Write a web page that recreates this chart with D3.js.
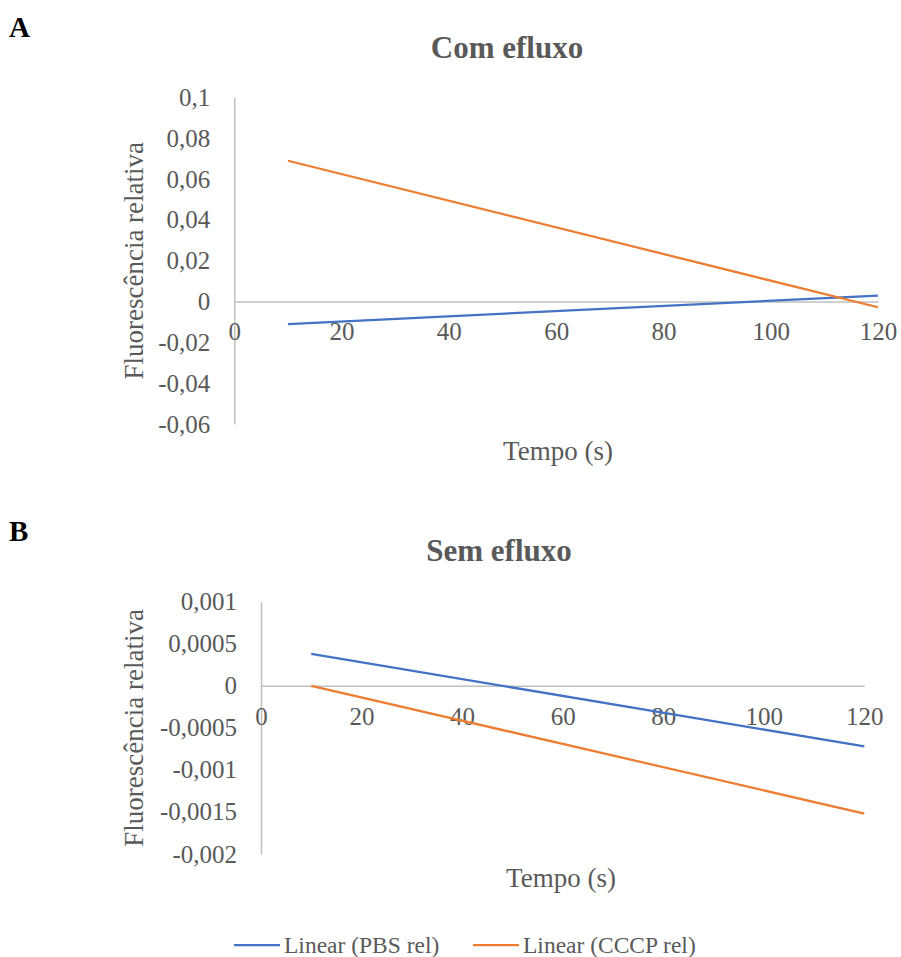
<!DOCTYPE html>
<html>
<head>
<meta charset="utf-8">
<script src="https://cdn.jsdelivr.net/npm/d3@7"></script>
<style>
  body { margin: 0; background: #fff; }
  svg { display: block; font-family: "Liberation Serif", "Times New Roman", Times, serif; }
  .axis path, .axis line { stroke: #bfbfbf; stroke-width: 1.5px; }
  .axis text { fill: #595959; font-size: 25px; font-family: "Liberation Serif", "Times New Roman", Times, serif; }
</style>
</head>
<body>
<div id="chart"></div>
<script>
// ── dados ──
const tempo = [10, 120];               // linhas de tendência (início, fim)
const xTicks = [0, 20, 40, 60, 80, 100, 120];

const pbsA  = [-0.011, 0.0029];
const cccpA = [0.069, -0.0028];
const yTicksA  = [0.1, 0.08, 0.06, 0.04, 0.02, 0, -0.02, -0.04, -0.06];
const yLabelsA = ['0,1', '0,08', '0,06', '0,04', '0,02', '0', '-0,02', '-0,04', '-0,06'];

const pbsB  = [0.00038, -0.00072];
const cccpB = [0, -0.00152];
const yTicksB  = [0.001, 0.0005, 0, -0.0005, -0.001, -0.0015, -0.002];
const yLabelsB = ['0,001', '0,0005', '0', '-0,0005', '-0,001', '-0,0015', '-0,002'];

const seriesNames = ['Linear (PBS rel)', 'Linear (CCCP rel)'];
const colors = ['#4472C4', '#ED7D31'];

const W = 901, H = 957;
const svg = d3.select('#chart').append('svg').attr('width', W).attr('height', H);

// ── um painel ─────────────────────────────────────────────────────────────
function panel(o) {
  const x = d3.scaleLinear().domain([0, 120]).range(o.xr);
  const y = d3.scaleLinear().domain(o.yd).range(o.yr);
  const g = svg.append('g');

  // letra do painel
  g.append('text').attr('x', 9).attr('y', o.letterY)
    .attr('font-size', 29).attr('font-weight', 'bold').attr('fill', '#000')
    .text(o.letter);

  // título
  g.append('text').attr('x', o.titleX).attr('y', o.titleY)
    .attr('text-anchor', 'middle').attr('font-size', 31).attr('font-weight', 'bold')
    .attr('fill', '#595959').text(o.title);

  // eixo Y
  const labels = d3.scaleOrdinal().domain(o.yTicks).range(o.yLabels);
  g.append('g').attr('class', 'axis')
    .attr('transform', `translate(${o.xr[0]},0)`)
    .call(d3.axisLeft(y).tickValues(o.yTicks).tickFormat(d => labels(d))
      .tickSize(0).tickPadding(24).tickSizeOuter(0));

  // eixo X (na linha do zero)
  const ax = g.append('g').attr('class', 'axis')
    .attr('transform', `translate(0,${y(0)})`)
    .call(d3.axisBottom(x).tickValues(xTicks).tickFormat(d => d)
      .tickSize(0).tickPadding(0).tickSizeOuter(0));
  ax.selectAll('text').attr('dy', null).attr('y', 33).attr('dominant-baseline', 'middle');

  // linhas de tendência
  const line = d3.line().x((d, i) => x(tempo[i])).y(d => y(d));
  [o.pbs, o.cccp].forEach((s, i) => {
    g.append('path').datum(s).attr('d', line)
      .attr('fill', 'none').attr('stroke', colors[i]).attr('stroke-width', 2.25);
  });

  // títulos dos eixos
  g.append('text').attr('x', o.xTitleX).attr('y', o.xTitleY)
    .attr('text-anchor', 'middle').attr('font-size', 27).attr('fill', '#595959')
    .text('Tempo (s)');
  g.append('text')
    .attr('transform', `translate(143,${(o.yr[0] + o.yr[1]) / 2}) rotate(-90)`)
    .attr('text-anchor', 'middle').attr('font-size', 27).attr('fill', '#595959')
    .text('Fluorescência relativa');
}

panel({
  letter: 'A', letterY: 37, title: 'Com efluxo', titleX: 507, titleY: 58,
  xr: [234.3, 878], yd: [-0.06, 0.1], yr: [424, 97.5],
  yTicks: yTicksA, yLabels: yLabelsA, pbs: pbsA, cccp: cccpA,
  xTitleX: 558, xTitleY: 460
});
panel({
  letter: 'B', letterY: 541, title: 'Sem efluxo', titleX: 499, titleY: 561,
  xr: [261, 864.3], yd: [-0.002, 0.001], yr: [854, 601.7],
  yTicks: yTicksB, yLabels: yLabelsB, pbs: pbsB, cccp: cccpB,
  xTitleX: 561, xTitleY: 887
});

// ── legenda ──
const leg = svg.append('g');
const legX = [234, 473];
seriesNames.forEach((n, i) => {
  leg.append('line').attr('x1', legX[i]).attr('x2', legX[i] + 46)
    .attr('y1', 945).attr('y2', 945)
    .attr('stroke', colors[i]).attr('stroke-width', 2.25);
  leg.append('text').attr('x', legX[i] + 50).attr('y', 953)
    .attr('font-size', 23.5).attr('fill', '#595959').text(n);
});
</script>
</body>
</html>
